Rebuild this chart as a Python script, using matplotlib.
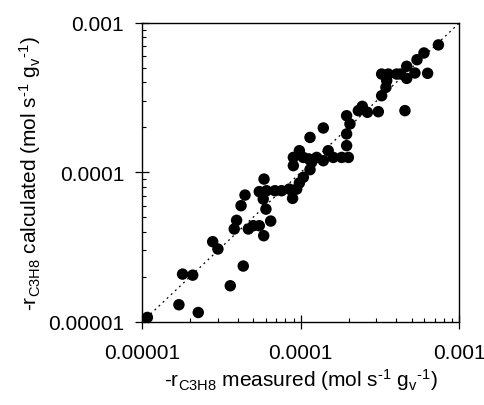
import numpy as np
import matplotlib
matplotlib.use('Agg')
import matplotlib.pyplot as plt

plt.rcParams['font.family'] = ['Liberation Sans', 'DejaVu Sans']
plt.rcParams['mathtext.fontset'] = 'custom'
plt.rcParams['mathtext.rm'] = 'Liberation Sans'
plt.rcParams['mathtext.it'] = 'Liberation Sans:italic'

# log10 of measured / calculated rates
log_meas = [-4.968, -4.769, -4.647, -4.746, -4.682, -4.445, -4.363, -4.556, -4.523,
            -4.420, -4.405, -4.377, -4.352, -4.331, -4.300, -4.262, -4.234, -4.190,
            -4.220, -4.237, -4.262, -4.232, -4.216, -4.163, -4.121, -4.073, -4.052,
            -4.026, -4.009, -3.984, -4.047, -4.047, -4.009, -3.984, -3.942, -3.932,
            -3.950, -3.900, -3.858, -3.827, -3.795, -3.742, -3.700, -3.711, -3.711,
            -3.690, -3.711, -3.942, -3.858, -3.637, -3.612, -3.580, -3.511, -3.343,
            -3.490, -3.463, -3.458, -3.490, -3.448, -3.395, -3.332, -3.332, -3.280,
            -3.200, -3.267, -3.223, -3.132, -3.370]
log_calc = [-4.971, -4.886, -4.938, -4.681, -4.688, -4.759, -4.627, -4.464, -4.513,
            -4.379, -4.321, -4.223, -4.152, -4.379, -4.357, -4.357, -4.424, -4.326,
            -4.246, -4.179, -4.129, -4.045, -4.123, -4.123, -4.123, -4.112, -4.174,
            -4.112, -4.071, -4.033, -3.955, -3.900, -3.855, -3.900, -3.982, -3.933,
            -3.910, -3.900, -3.922, -3.855, -3.900, -3.900, -3.900, -3.821, -3.743,
            -3.676, -3.621, -3.766, -3.703, -3.587, -3.558, -3.598, -3.594, -3.587,
            -3.487, -3.431, -3.386, -3.342, -3.342, -3.342, -3.290, -3.371, -3.335,
            -3.337, -3.246, -3.201, -3.147, -3.342]

meas = 10 ** np.array(log_meas)
calc = 10 ** np.array(log_calc)

fig = plt.figure(figsize=(4.84, 4.06), dpi=100)
ax = fig.add_axes([0.294, 0.205, 0.655, 0.736])

ax.plot([1e-5, 1e-3], [1e-5, 1e-3], color='black', linestyle=(0, (1.5, 3)), linewidth=0.9, zorder=1)
ax.scatter(meas, calc, s=68, color='black', edgecolors='none', zorder=2)

ax.set_xscale('log')
ax.set_yscale('log')
ax.set_xlim(1e-5, 1e-3)
ax.set_ylim(1e-5, 1e-3)
ticks = [1e-5, 1e-4, 1e-3]
tick_labels = ['0.00001', '0.0001', '0.001']
ax.set_xticks(ticks)
ax.set_xticklabels(tick_labels)
ax.set_yticks(ticks)
ax.set_yticklabels(tick_labels)

ax.tick_params(which='major', direction='inout', length=10, width=0.9, labelsize=15)
ax.tick_params(which='minor', direction='in', length=3, width=0.8)
ax.tick_params(top=False, right=False, which='both')
ax.xaxis.set_tick_params(which='major', pad=10)
ax.yaxis.set_tick_params(which='major', pad=8)
for sp in ax.spines.values():
    sp.set_linewidth(1.0)

ax.set_xlabel(r'-r$_{\mathrm{C3H8}}$ measured (mol s$^{\text{-1}}$ g$_{\mathrm{v}}$$^{\text{-1}}$)',
              fontsize=15, labelpad=3)
ax.set_ylabel(r'-r$_{\mathrm{C3H8}}$ calculated (mol s$^{\text{-1}}$ g$_{\mathrm{v}}$$^{\text{-1}}$)',
              fontsize=15, labelpad=4)

fig.savefig('out.png', dpi=100)
